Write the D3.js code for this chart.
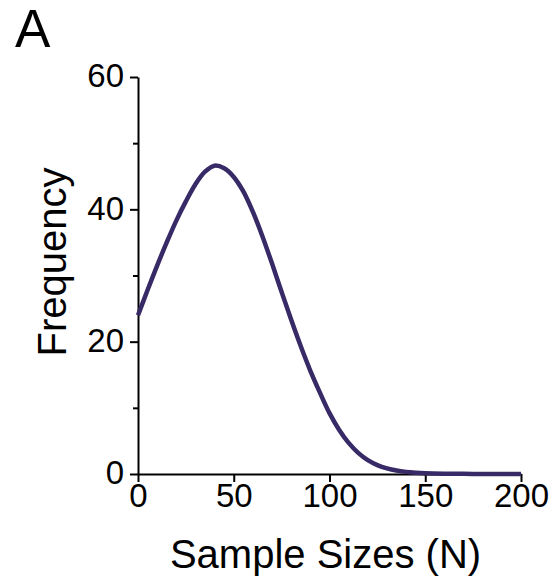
<!DOCTYPE html>
<html>
<head>
  <meta charset="utf-8">
  <title>Sample Sizes</title>
  <style>
  body { margin: 0; background: #fff; }
  svg text { font-family: "Liberation Sans", Arial, sans-serif; fill: #000; }
  .axis path, .axis line { stroke: #000; stroke-width: 2px; }
  .curve { fill: none; stroke: #382a66; stroke-width: 4.5px; stroke-linejoin: round; stroke-linecap: butt; }
  </style>
</head>
<body>
  <div id="chart"></div>
  <script src="https://cdn.jsdelivr.net/npm/d3@7/dist/d3.min.js"></script>
  <script>
  // values
  var sampleSizes = [0, 5, 10, 15, 20, 25, 30, 35, 40, 45, 50, 55, 60, 65, 70, 75, 80, 85, 90, 95,
    100, 105, 110, 115, 120, 125, 130, 135, 140, 145, 150, 160, 170, 180, 190, 200];
  var frequency = [24, 27.8, 31.5, 35, 38.3, 41.2, 43.8, 45.7, 46.6, 46.2, 44.9, 42.7, 39.6, 35.9, 31.8, 27.5,
    23.3, 19.3, 15.6, 12.3, 9.2, 6.7, 4.7, 3.2, 2.1, 1.35, 0.85, 0.52, 0.32, 0.2, 0.12, 0.05, 0.02, 0.01, 0, 0];
  var xTicks = [0, 50, 100, 150, 200];
  var yTicks = [0, 20, 40, 60];
  var yMinorTicks = [10, 30, 50];

  var width = 556, height = 582;

  var svg = d3.select("#chart")
    .append("svg")
    .attr("width", width)
    .attr("height", height);

  var x = d3.scaleLinear().domain([0, 200]).range([138, 521]);
  var y = d3.scaleLinear().domain([0, 60]).range([474, 77]);

  //minor y ticks
  svg.append("g")
    .attr("class", "axis")
    .attr("transform", "translate(" + x(0) + ",0)")
    .call(d3.axisLeft(y).tickValues(yMinorTicks).tickSize(5).tickSizeOuter(0).tickFormat(""))
    .select(".domain").remove();

  //y axis
  var yAxis = svg.append("g")
    .attr("class", "axis")
    .attr("transform", "translate(" + x(0) + ",0)")
    .call(d3.axisLeft(y).tickValues(yTicks).tickSize(8).tickSizeOuter(0).tickPadding(6));
  yAxis.selectAll("text").style("font-size", "33px").attr("dy", "0.3em");

  //x axis
  var xAxis = svg.append("g")
    .attr("class", "axis")
    .attr("transform", "translate(0," + y(0) + ")")
    .call(d3.axisBottom(x).tickValues(xTicks).tickSize(8).tickSizeOuter(0).tickPadding(2));
  xAxis.selectAll("text").style("font-size", "33px").attr("dy", "0.71em");

  //curve
  var line = d3.line()
    .x(function(d, i) { return x(sampleSizes[i]); })
    .y(function(d) { return y(d); })
    .curve(d3.curveCatmullRom.alpha(0.5));

  svg.append("path")
    .datum(frequency)
    .attr("class", "curve")
    .attr("d", line);

  //axis titles
  svg.append("text")
    .attr("x", (x(0) + x(200)) / 2 - 4)
    .attr("y", 568)
    .attr("text-anchor", "middle")
    .style("font-size", "40px")
    .text("Sample Sizes (N)");

  svg.append("text")
    .attr("transform", "translate(66," + 262 + ") rotate(-90)")
    .attr("text-anchor", "middle")
    .style("font-size", "40px")
    .text("Frequency");

  //panel letter
  svg.append("text")
    .attr("x", 15)
    .attr("y", 47)
    .style("font-size", "53px")
    .text("A");
  </script>
</body>
</html>
